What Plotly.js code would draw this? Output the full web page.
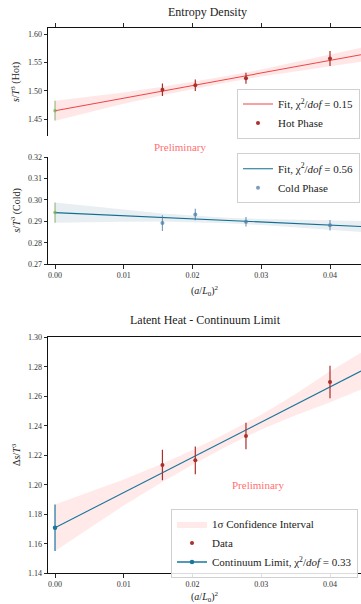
<!DOCTYPE html>
<html>
<head>
<meta charset="utf-8">
<script src="https://cdn.plot.ly/plotly-3.0.1.min.js"></script>
<style>html,body{margin:0;padding:0;background:#fff;}#chart{width:361px;height:604px;}</style>
</head>
<body>
<div id="chart"></div>
<script>
// ---------- data ----------
const latticeX = [0.015625, 0.020408, 0.027778, 0.04];   // (a/L0)^2
const contX = [0];

// Hot phase
const hotY   = [1.5018, 1.5099, 1.5222, 1.5570];
const hotErr = [0.0110, 0.0100, 0.0097, 0.0132];
const hotContY = [1.4651];
const hotContErr = [0.0174];
const hotFitX = [0, 0.04451];
const hotFitY = [1.4650, 1.5636];

// Cold phase
const coldY   = [0.2892, 0.2932, 0.2898, 0.2882];
const coldErr = [0.0037, 0.0027, 0.0022, 0.0024];
const coldContY = [0.2941];
const coldContErr = [0.0047];
const coldFitX = [0, 0.04451];
const coldFitY = [0.2941, 0.2876];

// Latent heat
const latY   = [1.2134, 1.2166, 1.2331, 1.2697];
const latErr = [0.0104, 0.0094, 0.0090, 0.0110];
const latContY = [1.1709];
const latContErr = [0.0157];
const latFitX = [0, 0.04451];
const latFitY = [1.1709, 1.2771];

// confidence bands (read at these x)
const bandX = [0, 0.01, 0.0156, 0.02, 0.025, 0.03, 0.035, 0.04, 0.04451];
const hotUp  = [1.4825, 1.4972, 1.5071, 1.5155, 1.5262, 1.5377, 1.5504, 1.5636, 1.5758];
const hotLo  = [1.4475, 1.4772, 1.4921, 1.5031, 1.5146, 1.5253, 1.5348, 1.5436, 1.5514];
const coldUp = [0.2988, 0.2954, 0.2937, 0.2927, 0.2917, 0.2911, 0.2907, 0.2904, 0.2902];
const coldLo = [0.2894, 0.2898, 0.2899, 0.2897, 0.2891, 0.2883, 0.2873, 0.2860, 0.2850];
const latUp  = [1.1867, 1.2036, 1.2143, 1.2236, 1.2351, 1.2475, 1.2616, 1.2769, 1.2896];
const latLo  = [1.1551, 1.1860, 1.2019, 1.2136, 1.2261, 1.2375, 1.2472, 1.2559, 1.2646];

const xTicks = [0, 0.01, 0.02, 0.03, 0.04];
const hotTicks = [1.45, 1.50, 1.55, 1.60];
const coldTicks = [0.27, 0.28, 0.29, 0.30, 0.31, 0.32];
const latTicks = [1.14, 1.16, 1.18, 1.20, 1.22, 1.24, 1.26, 1.28, 1.30];

// ---------- styles ----------
const FONT = "Liberation Serif, Times New Roman, serif";
const RED_LINE = "#f04545";
const BROWN = "#a8302a";
const GREEN = "rgba(120,170,90,0.75)";
const TEAL = "#17779c";
const STEEL = "rgba(80,125,165,0.75)";

function band(x, up, lo, fill, axes, name, show, legend) {
  return {
    x: x.concat(x.slice().reverse()),
    y: up.concat(lo.slice().reverse()),
    fill: "toself", fillcolor: fill, line: {width: 0, color: fill},
    mode: "lines", hoverinfo: "skip", name: name, showlegend: show,
    xaxis: axes[0], yaxis: axes[1], legend: legend
  };
}
function pts(x, y, e, color, axes, name, show, legend, size, mode) {
  return {
    x: x, y: y, mode: mode || "markers", name: name, showlegend: show, legend: legend,
    marker: {color: color, size: size || 4},
    line: {color: color, width: 1.3},
    error_y: {type: "data", array: e, visible: true, color: color, thickness: 1.2, width: 0},
    xaxis: axes[0], yaxis: axes[1]
  };
}
function line(x, y, color, axes, name, show, legend) {
  return {x: x, y: y, mode: "lines", line: {color: color, width: 1.1}, name: name,
    showlegend: show, legend: legend, xaxis: axes[0], yaxis: axes[1]};
}

const A1 = ["x", "y"], A2 = ["x2", "y2"], A3 = ["x3", "y3"];
const traces = [
  band(bandX, hotUp, hotLo, "rgba(255,120,120,0.18)", A1, "band", false, "legend"),
  line(hotFitX, hotFitY, RED_LINE, A1, "Fit, χ<sup>2</sup>/<i>dof</i> = 0.15", true, "legend"),
  pts(latticeX, hotY, hotErr, BROWN, A1, "Hot Phase", true, "legend", 4),
  pts(contX, hotContY, hotContErr, GREEN, A1, "cont", false, "legend", 3.5),

  band(bandX, coldUp, coldLo, "rgba(180,200,212,0.3)", A2, "band", false, "legend2"),
  line(coldFitX, coldFitY, "#0f6e93", A2, "Fit, χ<sup>2</sup>/<i>dof</i> = 0.56", true, "legend2"),
  pts(latticeX, coldY, coldErr, STEEL, A2, "Cold Phase", true, "legend2", 4),
  pts(contX, coldContY, coldContErr, GREEN, A2, "cont", false, "legend2", 3.5),

  band(bandX, latUp, latLo, "rgba(255,120,120,0.16)", A3, "1σ Confidence Interval", true, "legend3"),
  line(latFitX, latFitY, TEAL, A3, "fit", false, "legend3"),
  pts(latticeX, latY, latErr, BROWN, A3, "Data", true, "legend3", 4),
  pts(contX, latContY, latContErr, TEAL, A3, "Continuum Limit, χ<sup>2</sup>/<i>dof</i> = 0.33", true, "legend3", 4.5, "lines+markers")
];

const xRange = [-0.00102, 0.04451];
const tickFont = {family: FONT, size: 8, color: "#333"};
function xa(anchor, extra) {
  return Object.assign({
    anchor: anchor, range: xRange, tickvals: xTicks, tickformat: ".2f",
    showline: true, linecolor: "#111", linewidth: 1, ticks: "outside", ticklen: 3.5,
    tickwidth: 0.9, tickcolor: "#111", showgrid: false, zeroline: false, tickfont: tickFont
  }, extra || {});
}
function ya(anchor, domain, range, tv, extra) {
  return Object.assign({
    anchor: anchor, domain: domain, range: range, tickvals: tv, tickformat: ".2f",
    showline: true, linecolor: "#111", linewidth: 1, ticks: "outside", ticklen: 3.5,
    tickwidth: 0.9, tickcolor: "#111", showgrid: false, zeroline: false, tickfont: tickFont
  }, extra || {});
}

const H = 604, L = 48, W = 313;
const px = v => (v - L) / W;
const py = v => (H - v) / H;

function ann(text, x, y, size, color, angle) {
  return {text: text, x: px(x), y: py(y), xref: "paper", yref: "paper",
    xanchor: "center", yanchor: "middle", showarrow: false, textangle: angle || 0,
    font: {family: FONT, size: size, color: color || "#222"}};
}

const legendBase = {
  bgcolor: "rgba(255,255,255,0.85)", bordercolor: "#d0d0d0", borderwidth: 1,
  font: {family: FONT, size: 11, color: "#222"}, xanchor: "left", yanchor: "middle",
  tracegroupgap: 0
};

const layout = {
  width: 361, height: 604,
  margin: {l: L, r: 0, t: 0, b: 0},
  paper_bgcolor: "#fff", plot_bgcolor: "rgba(0,0,0,0)",
  font: {family: FONT},
  xaxis: xa("y", {side: "top", showticklabels: false}),
  yaxis: ya("x", [py(136), py(27.7)], [1.4206, 1.6111], hotTicks),
  xaxis2: xa("y2"),
  yaxis2: ya("x2", [py(264.3), py(157)], [0.27, 0.32], coldTicks),
  xaxis3: xa("y3", {mirror: true}),
  yaxis3: ya("x3", [py(573.3), py(337.3)], [1.14, 1.30], latTicks),
  legend: Object.assign({}, legendBase, {x: px(237), y: py(113.5)}),
  legend2: Object.assign({}, legendBase, {x: px(237), y: py(178.3)}),
  legend3: Object.assign({}, legendBase, {x: px(171), y: py(543)}),
  annotations: [
    ann("Entropy Density", 207, 12, 12),
    ann("Latent Heat - Continuum Limit", 205, 320, 12),
    ann("<i>s</i>/<i>T</i><sup>3</sup> (Hot)", 16, 81.9, 10, "#222", -90),
    ann("<i>s</i>/<i>T</i><sup>3</sup> (Cold)", 16, 210.6, 10, "#222", -90),
    ann("Δ<i>s</i>/<i>T</i><sup>3</sup>", 16, 455, 10, "#222", -90),
    ann("(<i>a</i>/<i>L</i><sub>0</sub>)<sup>2</sup>", 205, 291, 10),
    ann("(<i>a</i>/<i>L</i><sub>0</sub>)<sup>2</sup>", 205, 597, 10),
    ann("Preliminary", 180, 147, 11, "rgba(255,70,70,0.8)"),
    ann("Preliminary", 258, 485, 11, "rgba(255,70,70,0.8)")
  ]
};

Plotly.newPlot("chart", traces, layout, {staticPlot: true, displayModeBar: false});
</script>
</body>
</html>
